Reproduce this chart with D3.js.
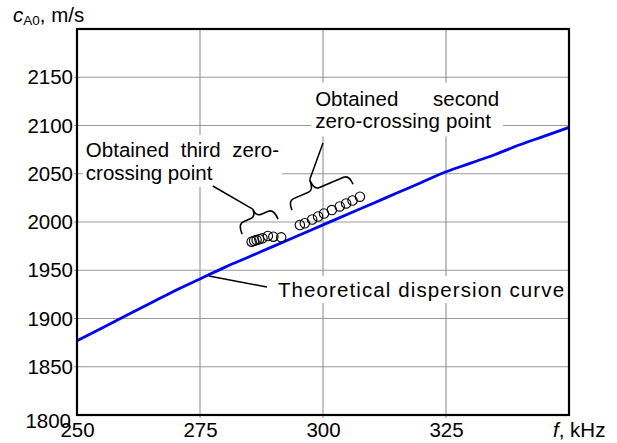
<!DOCTYPE html>
<html>
<head>
<meta charset="utf-8">
<script src="https://cdn.jsdelivr.net/npm/d3@7"></script>
<style>
    body { margin: 0; background: #fff; }
    svg text { font-family: "Liberation Sans", Arial, sans-serif; font-size: 20.5px; fill: #000; }
</style>
</head>
<body>
<svg id="chart" width="617" height="443"></svg>
<script>
//Theoretical dispersion curve: frequency (kHz) and phase velocity (m/s).
var curveFreq = [250, 255, 260, 265, 270, 275, 280, 285, 290, 295, 300, 305, 310, 315, 320, 325, 330, 335, 340, 345, 350];
var curveVel = [1877, 1890, 1903, 1916, 1929, 1941, 1953, 1964, 1975, 1986, 1997, 2008, 2019, 2030, 2041, 2052, 2061, 2070, 2080, 2089, 2098];

//Obtained third zero-crossing points.
var thirdFreq = [285.5, 286.0, 286.5, 287.05, 287.7, 288.8, 289.9, 291.5];
var thirdVel = [1979.6, 1980.6, 1981.3, 1982.1, 1983.1, 1985.5, 1984.8, 1984.1];

//Obtained second zero-crossing points.
var secondFreq = [295.3, 296.3, 297.8, 299.0, 300.2, 301.8, 303.4, 304.7, 306.0, 307.5];
var secondVel = [1996.9, 1998.7, 2002.6, 2005.7, 2008.8, 2012.4, 2016.1, 2019.2, 2022.3, 2026.2];

//Tick values.
var xTicks = [250, 275, 300, 325];
var yTicks = [1800, 1850, 1900, 1950, 2000, 2050, 2100, 2150];

(function () {
    var svg = d3.select("#chart");

    var x = d3.scaleLinear().domain([250, 350]).range([77, 569]);
    var y = d3.scaleLinear().domain([1800, 2200]).range([415, 29]);

    //Grid lines.
    var grid = svg.append("g").attr("class", "grid");
    grid.selectAll(".hgrid")
        .data(yTicks.slice(1))
        .enter()
        .append("line")
        .attr("x1", x(250) - 3)
        .attr("x2", x(350))
        .attr("y1", function (d) { return y(d); })
        .attr("y2", function (d) { return y(d); })
        .style("stroke", "#999")
        .style("stroke-width", 1.2);
    grid.selectAll(".vgrid")
        .data(xTicks.slice(1))
        .enter()
        .append("line")
        .attr("x1", function (d) { return x(d); })
        .attr("x2", function (d) { return x(d); })
        .attr("y1", y(1800) + 3)
        .attr("y2", y(2200))
        .style("stroke", "#888")
        .style("stroke-width", 1);

    //Axes (labels only).
    var yAxis = svg.append("g")
        .attr("transform", "translate(" + x(250) + ",0)")
        .call(d3.axisLeft(y).tickValues(yTicks).tickSize(0).tickPadding(4).tickFormat(d3.format("d")));
    var xAxis = svg.append("g")
        .attr("transform", "translate(0," + y(1800) + ")")
        .call(d3.axisBottom(x).tickValues(xTicks).tickSize(0).tickPadding(7).tickFormat(d3.format("d")));
    [yAxis, xAxis].forEach(function (a) {
        a.select(".domain").remove();
        a.selectAll("text").attr("fill", "#000");
        a.attr("font-family", null).attr("font-size", null);
    });
    //The lowest y label sits just below its line, left of the first x label.
    yAxis.selectAll(".tick").filter(function (d) { return d === 1800; })
        .select("text").attr("dy", "0.6em").attr("x", -6);

    //Axis titles.
    var yTitle = svg.append("text").attr("x", 13).attr("y", 22);
    yTitle.append("tspan").style("font-style", "italic").text("c");
    yTitle.append("tspan").attr("dy", 3).style("font-size", "13.5px").text("A0");
    yTitle.append("tspan").attr("dy", -3).text(", m/s");

    var xTitle = svg.append("text").attr("x", 553).attr("y", 437);
    xTitle.append("tspan").style("font-style", "italic").text("f");
    xTitle.append("tspan").text(", kHz");

    //Annotation texts with white backgrounds that hide the grid.
    var notes = svg.append("g");
    function boxed(lines, pad) {
        var g = notes.append("g");
        var bg = g.append("rect").style("fill", "#fff");
        lines.forEach(function (l) {
            var t = g.append("text")
                .attr("x", x(l.f))
                .attr("y", y(l.c))
                .style("text-anchor", l.anchor || "start")
                .text(l.text);
            if (l.wordSpacing) t.style("word-spacing", l.wordSpacing + "px");
            if (l.letterSpacing) t.style("letter-spacing", l.letterSpacing + "px");
        });
        var b = g.node().getBBox();
        bg.attr("x", b.x - pad).attr("y", b.y - pad)
            .attr("width", b.width + pad * 2).attr("height", b.height + pad * 2);
        return g;
    }

    boxed([
        { text: "Obtained third zero-", f: 251.8, c: 2067.4, wordSpacing: 6 },
        { text: "crossing point", f: 251.8, c: 2043.5 }
    ], 3);

    boxed([
        { text: "Obtained", f: 298.4, c: 2120.5 },
        { text: "second", f: 335.8, c: 2120.5, anchor: "end" },
        { text: "zero-crossing point", f: 298.4, c: 2096.9, letterSpacing: 0.15 }
    ], 4);

    boxed([
        { text: "Theoretical dispersion curve", f: 290.85, c: 1922.3, letterSpacing: 1.1 }
    ], 2);

    //Theoretical curve.
    var line = d3.line()
        .x(function (d, i) { return x(curveFreq[i]); })
        .y(function (d) { return y(d); })
        .curve(d3.curveMonotoneX);
    svg.append("path")
        .datum(curveVel)
        .attr("d", line)
        .style("fill", "none")
        .style("stroke", "#0000ff")
        .style("stroke-width", 2.8);

    //Measured points.
    function points(fs, cs) {
        svg.append("g").selectAll("circle")
            .data(cs)
            .enter()
            .append("circle")
            .attr("cx", function (d, i) { return x(fs[i]); })
            .attr("cy", function (d) { return y(d); })
            .attr("r", 4.7)
            .style("fill", "none")
            .style("stroke", "#000")
            .style("stroke-width", 1.1);
    }
    points(thirdFreq, thirdVel);
    points(secondFreq, secondVel);

    //Curly braces, ends given in data units; returns the tip point.
    function brace(f1, c1, f2, c2, hook, tip, shift) {
        var x1 = x(f1), y1 = y(c1), x2 = x(f2), y2 = y(c2);
        var w = Math.hypot(x2 - x1, y2 - y1);
        var ang = Math.atan2(y2 - y1, x2 - x1) * 180 / Math.PI;
        var r = 6, m = w / 2 + (shift || 0);
        var d = "M0," + hook +
            " Q0,0 " + r + ",0" +
            " L" + (m - r) + ",0" +
            " Q" + m + ",0 " + m + "," + (-tip) +
            " M" + m + "," + (-tip) +
            " Q" + m + ",0 " + (m + r) + ",0" +
            " L" + (w - r) + ",0" +
            " Q" + w + ",0 " + w + "," + hook;
        svg.append("path")
            .attr("d", d)
            .attr("transform", "translate(" + x1 + "," + y1 + ") rotate(" + ang + ")")
            .style("fill", "none")
            .style("stroke", "#000")
            .style("stroke-width", 1.6);
        var a = ang * Math.PI / 180;
        return [x1 + m * Math.cos(a) + tip * Math.sin(a), y1 + m * Math.sin(a) - tip * Math.cos(a)];
    }

    function leader(from, to) {
        svg.append("line")
            .attr("x1", from[0]).attr("y1", from[1])
            .attr("x2", to[0]).attr("y2", to[1])
            .style("stroke", "#000")
            .style("stroke-width", 1.5);
    }

    var tip3 = brace(282.7, 1997.9, 290.0, 2013.5, 11, 8, 0);
    leader([x(277.6), y(2037.3)], tip3);

    var tip2 = brace(292.9, 2021.8, 305.3, 2048.7, 10, 11, -5);
    leader([x(300.0), y(2081.9)], tip2);

    leader([x(276.8), y(1944)], [x(288.6), y(1932.6)]);

    //Frame.
    svg.append("rect")
        .attr("x", x(250))
        .attr("y", y(2200))
        .attr("width", x(350) - x(250))
        .attr("height", y(1800) - y(2200))
        .style("fill", "none")
        .style("stroke", "#000")
        .style("stroke-width", 2.2);
})();
</script>
</body>
</html>
